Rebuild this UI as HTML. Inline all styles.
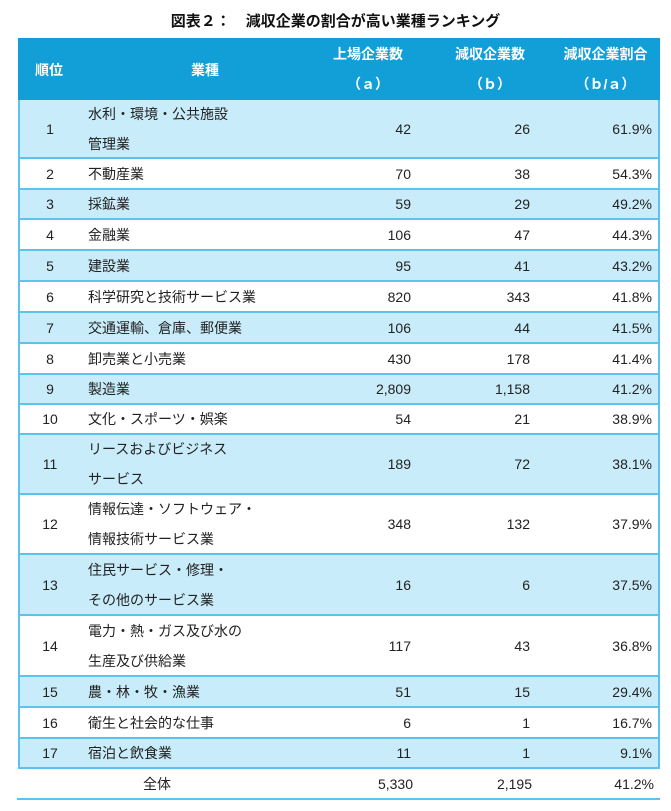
<!DOCTYPE html>
<html><head><meta charset="utf-8"><style>
body{margin:0;width:671px;height:811px;background:#fff;position:relative;font-family:"Liberation Sans","Noto Sans CJK JP",sans-serif;color:#222;overflow:hidden}
.t{position:absolute;left:0;width:671px;top:10px;text-align:center;font-weight:bold;font-size:15px;color:#111}
.hd{position:absolute;left:18px;width:642px;top:38px;height:62px;background:#129fd8;color:#fff;font-weight:bold;font-size:14px}
.hd div{position:absolute}
.r{position:absolute;left:18px;width:642px;font-size:14px;box-sizing:border-box;border-left:2px solid #5bc3ee;border-right:2px solid #5bc3ee;border-bottom:2px solid #5bc3ee}
.r div{position:absolute;top:0;bottom:0;display:flex;align-items:center}
.b{background:#c9ecfa}
.c0{left:0;width:60px;justify-content:center}
.c1{left:68px;line-height:30px}
.c2{right:247px;}
.c3{right:128px;}
.c4{right:6px;}
</style></head><body>
<div class="t">図表２：　減収企業の割合が高い業種ランキング</div>
<div class="hd">
<div style="left:0;width:62px;top:22px;text-align:center">順位</div>
<div style="left:62px;width:250px;top:22px;text-align:center">業種</div>
<div style="left:290px;width:120px;top:6px;text-align:center">上場企業数</div>
<div style="left:290px;width:120px;top:36px;text-align:center">（ａ）</div>
<div style="left:412px;width:120px;top:6px;text-align:center">減収企業数</div>
<div style="left:412px;width:120px;top:36px;text-align:center">（ｂ）</div>
<div style="left:530px;width:115px;top:6px;text-align:center">減収企業割合</div>
<div style="left:530px;width:115px;top:36px;text-align:center">（ｂ/ａ）</div>
</div>
<div class="r b" style="top:100px;height:59px"><div class="c0">1</div><div class="c1">水利・環境・公共施設<br>管理業</div><div class="c2">42</div><div class="c3">26</div><div class="c4">61.9%</div></div>
<div class="r" style="top:159px;height:31px"><div class="c0">2</div><div class="c1">不動産業</div><div class="c2">70</div><div class="c3">38</div><div class="c4">54.3%</div></div>
<div class="r b" style="top:190px;height:30px"><div class="c0">3</div><div class="c1">採鉱業</div><div class="c2">59</div><div class="c3">29</div><div class="c4">49.2%</div></div>
<div class="r" style="top:220px;height:31px"><div class="c0">4</div><div class="c1">金融業</div><div class="c2">106</div><div class="c3">47</div><div class="c4">44.3%</div></div>
<div class="r b" style="top:251px;height:31px"><div class="c0">5</div><div class="c1">建設業</div><div class="c2">95</div><div class="c3">41</div><div class="c4">43.2%</div></div>
<div class="r" style="top:282px;height:31px"><div class="c0">6</div><div class="c1">科学研究と技術サービス業</div><div class="c2">820</div><div class="c3">343</div><div class="c4">41.8%</div></div>
<div class="r b" style="top:313px;height:31px"><div class="c0">7</div><div class="c1">交通運輸、倉庫、郵便業</div><div class="c2">106</div><div class="c3">44</div><div class="c4">41.5%</div></div>
<div class="r" style="top:344px;height:31px"><div class="c0">8</div><div class="c1">卸売業と小売業</div><div class="c2">430</div><div class="c3">178</div><div class="c4">41.4%</div></div>
<div class="r b" style="top:375px;height:30px"><div class="c0">9</div><div class="c1">製造業</div><div class="c2">2,809</div><div class="c3">1,158</div><div class="c4">41.2%</div></div>
<div class="r" style="top:405px;height:30px"><div class="c0">10</div><div class="c1">文化・スポーツ・娯楽</div><div class="c2">54</div><div class="c3">21</div><div class="c4">38.9%</div></div>
<div class="r b" style="top:435px;height:60px"><div class="c0">11</div><div class="c1">リースおよびビジネス<br>サービス</div><div class="c2">189</div><div class="c3">72</div><div class="c4">38.1%</div></div>
<div class="r" style="top:495px;height:60px"><div class="c0">12</div><div class="c1">情報伝達・ソフトウェア・<br>情報技術サービス業</div><div class="c2">348</div><div class="c3">132</div><div class="c4">37.9%</div></div>
<div class="r b" style="top:555px;height:61px"><div class="c0">13</div><div class="c1">住民サービス・修理・<br>その他のサービス業</div><div class="c2">16</div><div class="c3">6</div><div class="c4">37.5%</div></div>
<div class="r" style="top:616px;height:61px"><div class="c0">14</div><div class="c1">電力・熱・ガス及び水の<br>生産及び供給業</div><div class="c2">117</div><div class="c3">43</div><div class="c4">36.8%</div></div>
<div class="r b" style="top:677px;height:31px"><div class="c0">15</div><div class="c1">農・林・牧・漁業</div><div class="c2">51</div><div class="c3">15</div><div class="c4">29.4%</div></div>
<div class="r" style="top:708px;height:31px"><div class="c0">16</div><div class="c1">衛生と社会的な仕事</div><div class="c2">6</div><div class="c3">1</div><div class="c4">16.7%</div></div>
<div class="r b" style="top:739px;height:30px"><div class="c0">17</div><div class="c1">宿泊と飲食業</div><div class="c2">11</div><div class="c3">1</div><div class="c4">9.1%</div></div>
<div class="r" style="top:769px;height:31px;border-left:none;border-right:none;left:17px;width:643px"><div class="c0" style="left:60px;width:160px">全体</div><div class="c2">5,330</div><div class="c3">2,195</div><div class="c4">41.2%</div></div>
</body></html>
